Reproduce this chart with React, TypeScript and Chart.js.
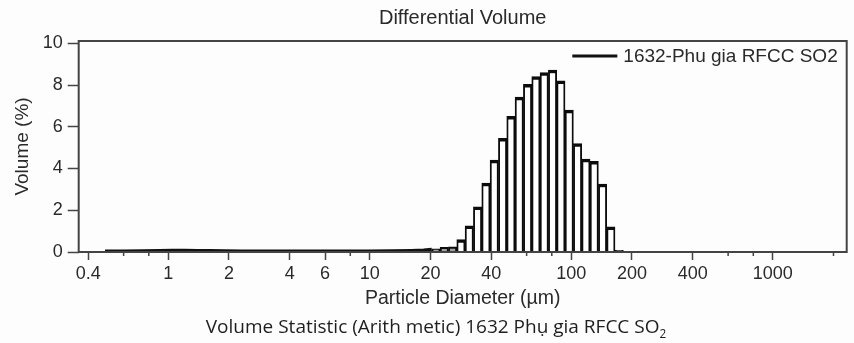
import React, { useEffect, useRef } from 'react';
import { Chart, registerables } from 'chart.js';

Chart.register(...registerables);

// Histogram channels (bin centre diameters, µm) and differential volume (%)
const binDiameters = [
  21.29, 23.41, 25.75, 28.32, 31.14, 34.26, 37.68, 41.45, 45.59, 50.13, 55.14, 60.65,
  66.71, 73.36, 80.69, 88.75, 97.61, 107.4, 118.1, 129.9, 142.9, 157.1, 172.8,
];
const volumePercent = [
  0.15, 0.22, 0.25, 0.6, 1.25, 2.17, 3.3, 4.4, 5.45, 6.5, 7.42, 8.03,
  8.41, 8.6, 8.72, 8.2, 6.8, 5.2, 4.45, 4.35, 3.26, 1.21, 0.08,
];

// Near-zero fine tail drawn as a thick trace
const tailDiameters = [0.485, 0.6, 0.75, 0.9, 1.05, 1.2, 1.4, 1.6, 1.9, 2.3, 3, 4, 5.5, 7.5, 10, 13, 16, 18.5, 20.3];
const tailValues = [0.04, 0.04, 0.05, 0.06, 0.07, 0.07, 0.06, 0.06, 0.05, 0.04, 0.04, 0.03, 0.03, 0.03, 0.04, 0.05, 0.06, 0.08, 0.12];

const xTickValues = [0.4, 1, 2, 4, 6, 10, 20, 40, 100, 200, 400, 1000];
const xMinorTickValues = [0.6, 0.8, 8, 60, 80, 600, 800, 2000];
const yTickStep = 2;

const seriesLabel = '1632-Phu gia RFCC SO2';
const chartTitle = 'Differential Volume';
const xTitle = 'Particle Diameter (µm)';
const yTitle = 'Volume (%)';

const FONT = 'Liberation Sans, Arial, Helvetica, sans-serif';
const TEXT = '#2a2a2a';

const bgPlugin = {
  id: 'bg',
  beforeDraw(chart: any) {
    const { ctx, width, height } = chart;
    ctx.save();
    ctx.fillStyle = '#fdfdfd';
    ctx.fillRect(0, 0, width, height);
    ctx.restore();
  },
};

const framePlugin = {
  id: 'frame',
  afterDatasetsDraw(chart: any) {
    const { ctx, chartArea } = chart;
    const { left, top, right, bottom } = chartArea;
    ctx.save();
    ctx.strokeStyle = '#444';
    ctx.lineWidth = 2;
    ctx.strokeRect(left, top, right - left, bottom - top);
    // minor ticks
    const xs = chart.scales.x;
    ctx.lineWidth = 1.5;
    ctx.strokeStyle = '#444';
    ctx.beginPath();
    for (const v of xMinorTickValues) {
      const px = xs.getPixelForValue(v);
      ctx.moveTo(px, bottom);
      ctx.lineTo(px, bottom + 4);
    }
    ctx.stroke();
    ctx.restore();
  },
};

const legendPlugin = {
  id: 'insideLegend',
  afterDraw(chart: any) {
    const { ctx, chartArea } = chart;
    ctx.save();
    ctx.font = `19px ${FONT}`;
    ctx.fillStyle = TEXT;
    ctx.textBaseline = 'middle';
    ctx.textAlign = 'left';
    const w = ctx.measureText(seriesLabel).width;
    const textX = chartArea.right - 9 - w;
    const y = chartArea.top + 16;
    ctx.fillText(seriesLabel, textX, y);
    ctx.strokeStyle = '#111';
    ctx.lineWidth = 3;
    ctx.beginPath();
    ctx.moveTo(textX - 51, y - 1);
    ctx.lineTo(textX - 6, y - 1);
    ctx.stroke();
    ctx.restore();
  },
};

export default function App() {
  const ref = useRef<HTMLCanvasElement>(null);

  useEffect(() => {
    document.body.style.margin = '0';
    const canvas = ref.current;
    if (!canvas) return;
    const chart = new Chart(canvas, {
      type: 'bar',
      data: {
        datasets: [
          {
            type: 'bar',
            label: seriesLabel,
            data: binDiameters.map((d, i) => ({ x: d, y: volumePercent[i] })),
            backgroundColor: (c: any) => (c.raw && c.raw.y < 0.5 ? '#a0a0a0' : '#ffffff'),
            borderColor: '#0c0c0c',
            borderWidth: { top: 3.5, left: 1.9, right: 1.9, bottom: 0 },
            borderSkipped: 'start',
            barThickness: 'flex',
            categoryPercentage: 1,
            barPercentage: 1,
          } as any,
          {
            type: 'line',
            label: 'tail',
            data: tailDiameters.map((d, i) => ({ x: d, y: tailValues[i] })),
            borderColor: '#111',
            borderWidth: 3.5,
            pointRadius: 0,
            tension: 0,
            fill: false,
          } as any,
        ],
      },
      options: {
        animation: false,
        responsive: false,
        events: [],
        layout: { padding: { left: 0, right: 7.3, top: 0, bottom: 27.4 } },
        plugins: {
          legend: { display: false },
          tooltip: { enabled: false },
          title: { display: false },
        },
        scales: {
          x: {
            type: 'logarithmic',
            position: 'bottom',
            min: 0.3591,
            max: 2326,
            offset: false,
            grid: {
              display: true,
              drawOnChartArea: false,
              drawTicks: true,
              tickLength: 8,
              tickColor: '#444',
              tickWidth: 1.5,
              offset: false,
            },
            border: { display: false },
            afterBuildTicks: (s: any) => {
              s.ticks = xTickValues.map((v) => ({ value: v }));
            },
            ticks: {
              autoSkip: false,
              maxRotation: 0,
              minRotation: 0,
              padding: 3,
              color: TEXT,
              font: { size: 18, family: FONT },
              callback: (v: any) => String(v),
            },
            title: {
              display: true,
              text: xTitle,
              color: TEXT,
              font: { size: 19.5, family: FONT },
              padding: { top: 0, bottom: 5.2 },
            },
            afterFit: (s: any) => {
              s.height = 63.6;
            },
          } as any,
          xTop: {
            type: 'linear',
            position: 'top',
            display: true,
            ticks: { display: false },
            grid: { display: false, drawTicks: false },
            border: { display: false },
            title: {
              display: true,
              text: chartTitle,
              color: TEXT,
              font: { size: 20, family: FONT },
              padding: { top: 6.2, bottom: 0 },
            },
            afterFit: (s: any) => {
              s.height = 41;
            },
          } as any,
          y: {
            type: 'linear',
            position: 'left',
            min: 0,
            max: 10.11,
            ticks: {
              stepSize: yTickStep,
              includeBounds: false,
              padding: 5,
              color: TEXT,
              font: { size: 18, family: FONT },
            },
            grid: {
              display: true,
              drawOnChartArea: false,
              drawTicks: true,
              tickLength: 11,
              tickColor: '#444',
              tickWidth: 1.5,
            },
            border: { display: false },
            title: {
              display: true,
              text: yTitle,
              color: TEXT,
              font: { size: 19, family: FONT },
              padding: { top: 11.6, bottom: 0 },
            },
            afterFit: (s: any) => {
              s.width = 78.7;
            },
          } as any,
        },
      },
      plugins: [bgPlugin, framePlugin, legendPlugin],
    } as any);
    return () => chart.destroy();
  }, []);

  return (
    <div style={{ position: 'relative', width: 854, height: 343, background: '#fdfdfd' }}>
      <canvas ref={ref} width={854} height={343} style={{ display: 'block' }} />
      <div
        style={{
          position: 'absolute',
          left: 0,
          top: 314,
          width: 854,
          boxSizing: 'border-box',
          paddingLeft: 18,
          textAlign: 'center',
          fontFamily: '"Open Sans", "Noto Sans", sans-serif',
          fontSize: 19,
          lineHeight: '24px',
          color: '#1e1e1e',
          whiteSpace: 'nowrap',
        }}
      >
        Volume Statistic (Arith metic) 1632 Phụ gia RFCC SO
        <span style={{ fontSize: '0.62em', position: 'relative', top: '0.45em' }}>2</span>
      </div>
    </div>
  );
}
